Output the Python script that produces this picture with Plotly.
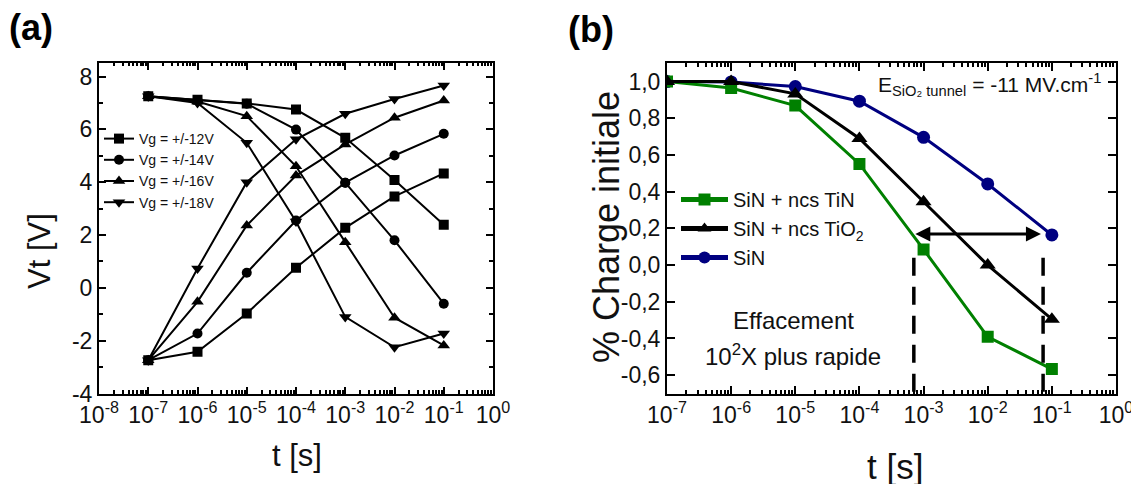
import math
import plotly.graph_objects as go

# ---------------- data ----------------
t_s = [1e-7, 1e-6, 1e-5, 1e-4, 1e-3, 1e-2, 1e-1]

vg_labels = ["Vg = +/-12V", "Vg = +/-14V", "Vg = +/-16V", "Vg = +/-18V"]
vg12_erase = [7.25, 7.12, 6.98, 6.75, 5.68, 4.08, 2.39]
vg12_prog = [-2.74, -2.42, -0.97, 0.76, 2.27, 3.46, 4.33]
vg14_erase = [7.25, 7.10, 6.97, 5.99, 3.98, 1.80, -0.60]
vg14_prog = [-2.74, -1.73, 0.57, 2.55, 3.98, 5.01, 5.83]
vg16_erase = [7.25, 7.05, 6.50, 4.60, 1.73, -1.13, -2.18]
vg16_prog = [-2.74, -0.53, 2.36, 4.25, 5.43, 6.44, 7.09]
vg18_erase = [7.25, 7.00, 5.49, 2.51, -1.10, -2.25, -1.73]
vg18_prog = [-2.74, 0.73, 4.00, 5.62, 6.59, 7.15, 7.66]

b_labels = ["SiN + ncs TiN", "SiN + ncs TiO<sub>2</sub>", "SiN"]
charge_tin = [1.0, 0.965, 0.869, 0.551, 0.085, -0.391, -0.567]
charge_tio2 = [1.0, 1.0, 0.933, 0.69, 0.345, 0.0, -0.295]
charge_sin = [1.0, 0.998, 0.973, 0.893, 0.696, 0.442, 0.164]

# erase-time comparison markers (panel b)
compare_t = [7.05e-4, 0.073]
arrow_t = [7.05e-4, 0.0676]
arrow_level = 0.169
dash_top = 0.04

x_ticks_a = [1e-8, 1e-7, 1e-6, 1e-5, 1e-4, 1e-3, 1e-2, 1e-1, 1e0]
x_ticks_b = [1e-7, 1e-6, 1e-5, 1e-4, 1e-3, 1e-2, 1e-1, 1e0]
y_ticks_a = [-4, -2, 0, 2, 4, 6, 8]
y_ticks_b = [-0.6, -0.4, -0.2, 0.0, 0.2, 0.4, 0.6, 0.8, 1.0]

# ---------------- helpers ----------------
W, H = 1139, 484
OFF = 8  # page body margin of the browser
FONT = "Liberation Sans, Arial, sans-serif"


def px(x):
    return (x - OFF) / W


def py(y):
    return 1 - (y - OFF) / H


def exp_label(v):
    e = int(round(math.log10(v)))
    return "10<sup>%d</sup>" % e


def comma_label(v):
    s = "%.1f" % v
    if s == "-0.0":
        s = "0.0"
    return s.replace(".", ",")


minor_log = [k * 10.0 ** n for n in range(-8, 0) for k in range(2, 10)]

fig = go.Figure()

# ---------------- panel (a) ----------------
symbols_a = ["square", "circle", "triangle-up", "triangle-down"]
sizes_a = [10, 10, 11, 11]
series_a = [(vg12_erase, vg12_prog), (vg14_erase, vg14_prog),
            (vg16_erase, vg16_prog), (vg18_erase, vg18_prog)]
for lab, sym, sz, (er, pr) in zip(vg_labels, symbols_a, sizes_a, series_a):
    fig.add_trace(go.Scatter(
        x=t_s + [None] + t_s, y=er + [None] + pr,
        mode="lines+markers", name=lab, connectgaps=False,
        line=dict(color="black", width=2),
        marker=dict(symbol=sym, size=sz, color="black"),
        xaxis="x", yaxis="y", legend="legend"))

# ---------------- panel (b) ----------------
fig.add_trace(go.Scatter(
    x=t_s, y=charge_sin, mode="lines+markers", name=b_labels[2],
    line=dict(color="#000080", width=3),
    marker=dict(symbol="circle", size=13, color="#000080"),
    xaxis="x2", yaxis="y2", legend="legend2", legendrank=3))
fig.add_trace(go.Scatter(
    x=t_s, y=charge_tin, mode="lines+markers", name=b_labels[0],
    line=dict(color="#008000", width=3),
    marker=dict(symbol="square", size=12, color="#008000"),
    xaxis="x2", yaxis="y2", legend="legend2", legendrank=1))
fig.add_trace(go.Scatter(
    x=t_s, y=charge_tio2, mode="lines+markers", name=b_labels[1],
    line=dict(color="black", width=3),
    marker=dict(symbol="triangle-up", size=14, color="black"),
    xaxis="x2", yaxis="y2", legend="legend2", legendrank=2))

# dashed verticals (shapes on log axes take data values)
for tv in compare_t:
    fig.add_shape(type="line", xref="x2", yref="y2",
                  x0=tv, x1=tv, y0=dash_top, y1=-0.7,
                  line=dict(color="black", width=3.5, dash="18px,11px"))

annotations = []
# double arrow (annotations on log axes take log10 values)
annotations.append(dict(
    x=math.log10(arrow_t[1]), y=arrow_level, ax=math.log10(arrow_t[0]), ay=arrow_level,
    xref="x2", yref="y2", axref="x2", ayref="y2", text="",
    showarrow=True, arrowhead=2, arrowside="end+start", arrowsize=1.0,
    arrowwidth=3, arrowcolor="black"))


def ann(x, y, text, size, angle=0, bold=False):
    return dict(x=px(x), y=py(y), xref="paper", yref="paper", showarrow=False,
                xanchor="center", yanchor="middle", textangle=angle,
                text=("<b>%s</b>" % text) if bold else text,
                font=dict(size=size, color="#111" if not bold else "black", family=FONT))


annotations += [
    ann(989, 84, "E<sub>SiO₂ tunnel</sub> = -11 MV.cm<sup>-1</sup>", 21),
    ann(793, 320, "Effacement", 24),
    ann(793, 355, "10<sup>2</sup>X plus rapide", 24),
    ann(31, 27, "(a)", 36, bold=True),
    ann(591, 29, "(b)", 36, bold=True),
    ann(39, 251, "Vt [V]", 31, angle=-90),
    ann(297, 455, "t [s]", 31),
    ann(606, 227, "% Charge initiale", 36, angle=-90),
    ann(895, 466, "t [s]", 35),
]

ydom = [1 - (393.5 - OFF) / H, 1 - (62.5 - OFF) / H]
common_axis = dict(showline=True, linecolor="black", linewidth=2, mirror="allticks",
                   ticks="inside", tickcolor="black", tickwidth=1.5, showgrid=False,
                   zeroline=False, automargin=False,
                   tickfont=dict(size=23, color="#111", family=FONT))

fig.update_layout(
    width=W, height=H, margin=dict(l=0, r=0, t=0, b=0, pad=0, autoexpand=False),
    paper_bgcolor="white", plot_bgcolor="white",
    font=dict(family=FONT, color="#111"),
    xaxis=dict(domain=[px(99), px(493)], type="log", range=[-8, 0], anchor="y",
               tickvals=x_ticks_a, ticktext=[exp_label(v) for v in x_ticks_a], ticklen=7,
               minor=dict(tickvals=minor_log, ticks="inside", ticklen=3.5, tickcolor="black"),
               **common_axis),
    yaxis=dict(domain=ydom, range=[-4, 8.53], anchor="x",
               tickvals=y_ticks_a, ticktext=[str(v) for v in y_ticks_a], ticklen=7,
               minor=dict(dtick=1, tick0=0, ticks="inside", ticklen=4, tickcolor="black"),
               **common_axis),
    xaxis2=dict(domain=[px(667), px(1116)], type="log", range=[-7, 0], anchor="y2",
                tickvals=x_ticks_b, ticktext=[exp_label(v) for v in x_ticks_b], ticklen=8,
                minor=dict(tickvals=[v for v in minor_log if v > 1e-7], ticks="inside",
                           ticklen=4, tickcolor="black"),
                **common_axis),
    yaxis2=dict(domain=ydom, range=[-0.7, 1.104], anchor="x2",
                tickvals=y_ticks_b, ticktext=[comma_label(v) for v in y_ticks_b], ticklen=8,
                **common_axis),
    legend=dict(x=px(99), y=py(123), xanchor="left", yanchor="top",
                bgcolor="rgba(0,0,0,0)", font=dict(size=14, color="#111", family=FONT),
                itemwidth=30, tracegroupgap=0),
    legend2=dict(x=px(676), y=py(180), xanchor="left", yanchor="top",
                 bgcolor="rgba(0,0,0,0)", font=dict(size=20, color="#111", family=FONT),
                 itemwidth=47, itemsizing="constant"),
    annotations=annotations,
    showlegend=True,
)

fig.write_html("out.html")
